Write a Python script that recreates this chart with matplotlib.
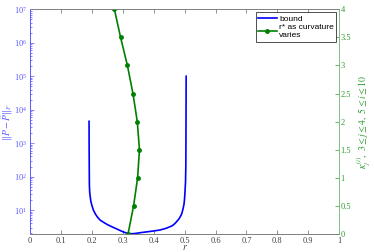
import matplotlib
matplotlib.use("Agg")
import matplotlib.pyplot as plt
import numpy as np

plt.rcParams['mathtext.fontset'] = 'stix'
plt.rcParams['font.family'] = ['Liberation Serif', 'DejaVu Serif']

# bound curve
bound_r = [0.191, 0.1912, 0.1915, 0.192, 0.193, 0.195, 0.197, 0.200, 0.205, 0.212, 0.218,
           0.227, 0.240, 0.250, 0.264, 0.280, 0.300, 0.310, 0.320, 0.330, 0.340, 0.356,
           0.380, 0.400, 0.420, 0.440, 0.460, 0.469, 0.475, 0.482, 0.487, 0.491, 0.495,
           0.498, 0.4995, 0.501, 0.503, 0.504, 0.5045, 0.505]
bound_v = [4500, 1000, 300, 58, 35, 24, 18, 14, 10, 7.5, 6.2,
           5.0, 4.2, 3.7, 3.2, 2.75, 2.26, 2.1, 1.98, 1.97, 2.0, 2.11,
           2.25, 2.38, 2.54, 2.85, 3.4, 4.0, 4.6, 5.5, 6.6, 7.9, 11,
           15, 20, 32, 70, 218, 3000, 1e5]

# r* as curvature varies
rstar = [0.317, 0.335, 0.348, 0.354, 0.347, 0.333, 0.315, 0.293, 0.273]
kappa = [0.0, 0.5, 1.0, 1.5, 2.0, 2.5, 3.0, 3.5, 4.0]

xticks = [0, 0.1, 0.2, 0.3, 0.4, 0.5, 0.6, 0.7, 0.8, 0.9, 1]
xticklabels = ['0', '0.1', '0.2', '0.3', '0.4', '0.5', '0.6', '0.7', '0.8', '0.9', '1']
rticks = [0, 0.5, 1, 1.5, 2, 2.5, 3, 3.5, 4]
rticklabels = ['0', '0.5', '1', '1.5', '2', '2.5', '3', '3.5', '4']

blue_txt = '#5a5aff'
green_txt = '#2e9a2e'
gray = '#7f7f7f'

fig = plt.figure(figsize=(3.74, 2.52), dpi=100)
ax = fig.add_axes([0.0802, 0.0714, 0.907 - 0.0802, 0.963 - 0.0714])
ax2 = ax.twinx()

l1, = ax.plot(bound_r, bound_v, color='#0000ff', lw=1.2, label='bound')
ax.set_yscale('log')
ax.set_xlim(0, 1)
ax.set_ylim(1.93, 1e7)
ax.set_xticks(xticks)
ax.set_xticklabels(xticklabels)
ax.set_yticks([1e1, 1e2, 1e3, 1e4, 1e5, 1e6, 1e7])
ax.tick_params(axis='x', direction='in', labelsize=6, colors=gray, labelcolor='#404040',
               length=3, width=0.6, top=True, pad=2)
ax.tick_params(axis='y', which='both', direction='in', labelsize=6, colors=blue_txt,
               labelcolor=blue_txt, width=0.5, pad=2)
ax.tick_params(axis='y', which='major', length=3)
ax.tick_params(axis='y', which='minor', length=1.5)
ax.set_xlabel('$r$', fontsize=7, color='#404040', labelpad=-1)
ax.set_ylabel(r'$\|P-\hat{P}\|_F$', fontsize=7, color=blue_txt)
ax.yaxis.set_label_coords(-0.048, 0.5)

l2, = ax2.plot(rstar, kappa, color='#008000', lw=1.2, marker='o', ms=2.5,
               label='r* as curvature\nvaries')
ax2.set_ylim(0, 4)
ax2.set_yticks(rticks)
ax2.set_yticklabels(rticklabels)
ax2.tick_params(axis='y', direction='in', labelsize=6, colors=green_txt,
                labelcolor=green_txt, length=3, width=0.5, pad=1)
ax2.set_ylabel(r'$\kappa_j^{(i)},\ 3 \leq j \leq 4,\ 5 \leq i \leq 10$', fontsize=7,
               color=green_txt, labelpad=2)

for a in (ax, ax2):
    a.spines['top'].set_color(gray)
    a.spines['bottom'].set_color(gray)
    a.spines['left'].set_color(blue_txt)
    a.spines['right'].set_color('#80c080')
    for s in a.spines.values():
        s.set_linewidth(0.6)

leg = ax2.legend(handles=[l1, l2], loc='upper right',
                 prop={'family': 'Liberation Sans', 'size': 6},
                 frameon=True, fancybox=False, edgecolor='black',
                 borderpad=0.3, labelspacing=0.2, handlelength=2.2,
                 handletextpad=0.3, borderaxespad=0.35)
leg.get_frame().set_linewidth(0.6)

fig.savefig('out.png', dpi=100)
